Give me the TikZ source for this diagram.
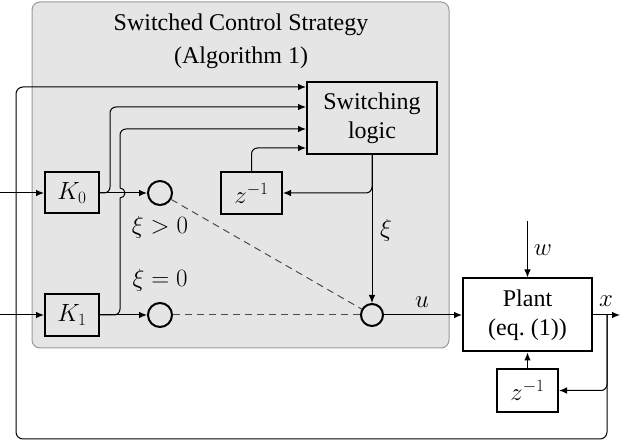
\documentclass[tikz,border=0pt]{standalone}
\usepackage{fontspec}
\setmainfont{Liberation Serif}
\usetikzlibrary{arrows.meta}
\begin{document}
\begin{tikzpicture}[x=1pt,y=1pt,
  every node/.style={font=\fontsize{24}{29}\selectfont},
  blk/.style={draw,line width=2pt,inner sep=0pt,align=center},
  sw/.style={draw,circle,line width=2pt,minimum size=24pt,inner sep=0pt},
  conn/.style={line width=1pt,rounded corners=6pt},
  arr/.style={conn,-{Latex[length=8pt,width=6.5pt]}},
  dsh/.style={line width=1pt,dash pattern=on 7pt off 5pt,draw=black!70}]
\useasboundingbox (0,0) rectangle (641,444);
\draw[fill=black!10,draw=black!40,line width=1pt,rounded corners=8pt] (32,96) rectangle (449,442);
\node[anchor=base] (t1) at (241,413) {Switched Control Strategy};
\node[anchor=base] (t2) at (241,380) {(Algorithm 1)};
\node[blk,minimum width=130pt,minimum height=72pt] (sl) at (372,326) {Switching\\logic};
\node[blk,minimum width=54pt,minimum height=41pt] (k0) at (72,251) {$K_0$};
\node[blk,minimum width=54pt,minimum height=42pt] (k1) at (72,129) {$K_1$};
\node[sw] (c0) at (160,251) {};
\node[sw] (c1) at (160,129) {};
\node[blk,minimum width=61pt,minimum height=42pt] (z1) at (251.5,251) {$z^{-1}$};
\node[sw,minimum size=22pt] (s) at (372,129) {};
\node[blk,minimum width=129pt,minimum height=73pt] (p) at (527.5,129) {Plant\\(eq.~(1))};
\node[blk,minimum width=61pt,minimum height=43pt] (z2) at (527.5,53.5) {$z^{-1}$};
% coordinates
\coordinate (in0) at (0,251);
\coordinate (in1) at (0,129);
\coordinate (r1) at (0,357);
\coordinate (r2) at (0,337);
\coordinate (r3) at (0,315);
\coordinate (r4) at (0,296);
\coordinate (wtop) at (527.5,223);
\coordinate (xout) at (620,129);
\coordinate (xb) at (607,129);
\coordinate (bot) at (0,5);
\coordinate (fl) at (16,0);
\coordinate (j0) at (110,0);
\coordinate (j1) at (120,0);
% inputs
\draw[arr] (in0) -- (k0);
\draw[arr] (in1) -- (k1);
\draw[arr] (k0) -- (c0);
\draw[arr] (k1) -- (c1);
% branches to switching logic
\draw[arr] (k0.east) -- (j0 |- k0.east) -- (j0 |- r2) -- (sl.west |- r2);
\draw[conn] (k1.east) -- (j1 |- k1.east) -- (120,246);
\draw[line width=1pt] (120,246) arc[start angle=-90,end angle=90,radius=5];
\draw[arr] (120,256) -- (j1 |- r3) -- (sl.west |- r3);
\draw[arr] (z1.north) -- (z1.north |- r4) -- (sl.west |- r4);
% switching logic output
\draw[arr] (sl.south) -- (s.north);
\draw[arr] (sl.south) -- (sl.south |- z1.east) -- (z1.east);
% dashed switch positions
\draw[dsh] (c0) -- (s);
\draw[dsh] (c1) -- (s);
% plant
\draw[arr] (s) -- (p);
\draw[arr] (wtop) -- (p.north);
\draw[arr] (p.east) -- (xout);
\draw[arr] (xb) -- (xb |- z2.east) -- (z2.east);
\draw[arr] (z2.north) -- (p.south);
\draw[arr,rounded corners=7pt] (xb) -- (xb |- bot) -- (fl |- bot) -- (fl |- r1) -- (sl.west |- r1);
% labels
\node (lg0) at (160,217) {$\xi>0$};
\node (lq0) at (160,164) {$\xi=0$};
\node (lxi) at (386,214) {$\xi$};
\node (lu) at (422,142) {$u$};
\node (lw) at (543,194) {$w$};
\node (lx) at (606,143) {$x$};
\end{tikzpicture}
\end{document}
